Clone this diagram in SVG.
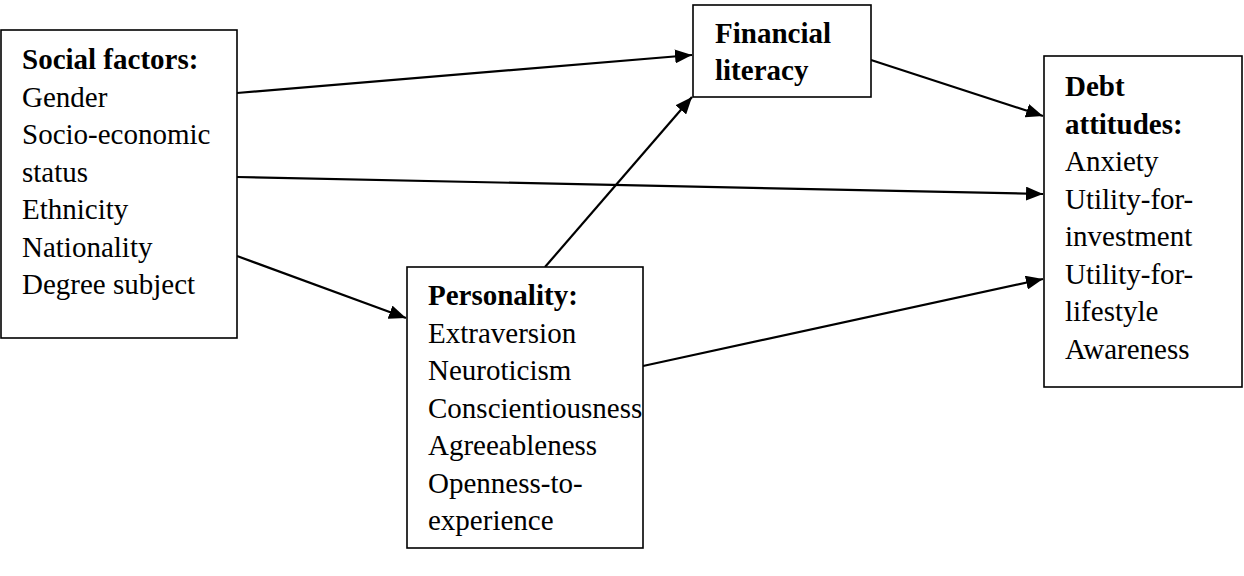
<svg xmlns="http://www.w3.org/2000/svg" width="1244" height="576" viewBox="0 0 1244 576">
<style>
.box{fill:#fff;stroke:#000;stroke-width:1.6}
text{font-family:"Liberation Serif","Times New Roman",serif;font-size:29px;fill:#000}
.b{font-weight:bold}
.c{stroke:#000;stroke-width:2.2;fill:none}
</style>
<defs>
<marker id="ah" markerUnits="userSpaceOnUse" markerWidth="18" markerHeight="14" refX="17" refY="7" orient="auto">
<path d="M0,0 L17,7 L0,14 Z" fill="#000"/>
</marker>
</defs>
<g id="connectors">
<line class="c" x1="237" y1="93" x2="692" y2="55" marker-end="url(#ah)"/>
<line class="c" x1="237" y1="177" x2="1043" y2="194" marker-end="url(#ah)"/>
<line class="c" x1="237" y1="256" x2="406" y2="318" marker-end="url(#ah)"/>
<line class="c" x1="545" y1="267" x2="692" y2="97" marker-end="url(#ah)"/>
<line class="c" x1="871" y1="60" x2="1043" y2="116" marker-end="url(#ah)"/>
<line class="c" x1="643" y1="366" x2="1043" y2="279" marker-end="url(#ah)"/>
</g>
<g id="social">
<rect class="box" x="1" y="30" width="236" height="308"/>
<text x="22" y="69" class="b">Social factors:</text>
<text x="22" y="106.5">Gender</text>
<text x="22" y="144">Socio-economic</text>
<text x="22" y="181.5">status</text>
<text x="22" y="219">Ethnicity</text>
<text x="22" y="256.5">Nationality</text>
<text x="22" y="294">Degree subject</text>
</g>
<g id="personality">
<rect class="box" x="407" y="267" width="236" height="281"/>
<text x="428" y="305" class="b">Personality:</text>
<text x="428" y="342.5">Extraversion</text>
<text x="428" y="380">Neuroticism</text>
<text x="428" y="417.5">Conscientiousness</text>
<text x="428" y="455">Agreeableness</text>
<text x="428" y="492.5">Openness-to-</text>
<text x="428" y="530">experience</text>
</g>
<g id="financial">
<rect class="box" x="693" y="5" width="178" height="92"/>
<text x="715" y="43" class="b">Financial</text>
<text x="715" y="80" class="b">literacy</text>
</g>
<g id="debt">
<rect class="box" x="1044" y="56" width="198" height="331"/>
<text x="1065" y="96" class="b">Debt</text>
<text x="1065" y="133.5" class="b">attitudes:</text>
<text x="1065" y="171">Anxiety</text>
<text x="1065" y="208.5">Utility-for-</text>
<text x="1065" y="246">investment</text>
<text x="1065" y="283.5">Utility-for-</text>
<text x="1065" y="321">lifestyle</text>
<text x="1065" y="358.5">Awareness</text>
</g>
</svg>
